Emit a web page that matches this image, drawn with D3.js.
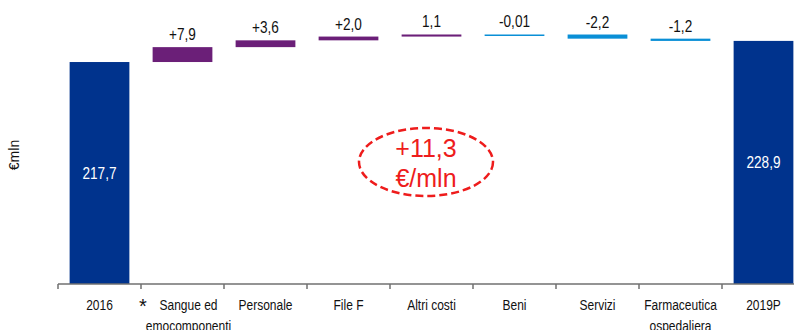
<!DOCTYPE html>
<html>
<head>
<meta charset="utf-8">
<script src="https://cdn.jsdelivr.net/npm/d3@7"></script>
<style>
  body { margin: 0; background: #fff; }
  svg text { font-family: "Liberation Sans", Arial, sans-serif; }
</style>
</head>
<body>
<svg id="chart" width="794" height="330"></svg>
<script>
// data
const categories = ["2016", "Sangue ed\nemocomponenti", "Personale", "File F", "Altri costi",
  "Beni", "Servizi", "Farmaceutica\nospedaliera", "2019P"];
const kinds = ["total", "delta", "delta", "delta", "delta", "delta", "delta", "delta", "total"];
const values = [217.7, 7.9, 3.6, 2.0, 1.1, -0.01, -2.2, -1.2, 228.9];
const valueLabels = ["217,7", "+7,9", "+3,6", "+2,0", "1,1", "-0,01", "-2,2", "-1,2", "228,9"];
const totalChange = ["+11,3", "€/mln"];

const colTotal = "#00338d";
const colUp = "#6b1f78";
const colDown = "#0a8fd6";
// narrow look (the original uses a condensed face)
const narrow = 0.8;

const svg = d3.select("#chart");

// scales
const x = d3.scaleBand()
  .domain(d3.range(10))
  .range([58, 888])
  .paddingInner(0.28)
  .paddingOuter(0.14);

const y = d3.scaleLinear()
  .domain([100, 235])
  .range([284, 29.4]);

// waterfall steps
let running = 0;
const bars = values.map((v, i) => {
  let lo, hi;
  if (kinds[i] === "total") {
    lo = y.domain()[0];
    hi = v;
    running = v;
  } else {
    lo = Math.min(running, running + v);
    hi = Math.max(running, running + v);
    running += v;
  }
  return { i, v, lo, hi, kind: kinds[i] };
});

svg.selectAll("rect.bar")
  .data(bars)
  .enter()
  .append("rect")
  .attr("class", "bar")
  .attr("x", d => x(d.i))
  .attr("width", x.bandwidth())
  .attr("y", d => y(d.hi))
  .attr("height", d => Math.max(y(d.lo) - y(d.hi), 1.5))
  .attr("fill", d => d.kind === "total" ? colTotal : (d.v >= 0 ? colUp : colDown));

// labels
svg.selectAll("text.val")
  .data(bars)
  .enter()
  .append("text")
  .attr("class", "val")
  .attr("transform", d => {
    const cx = x(d.i) + x.bandwidth() / 2;
    const cy = d.kind === "total" ? (y(d.hi) + y(d.lo)) / 2 + 6 : y(d.hi) - 7;
    return `translate(${cx},${cy}) scale(${narrow},1)`;
  })
  .attr("text-anchor", "middle")
  .attr("font-size", 17)
  .attr("fill", d => d.kind === "total" ? "#fff" : "#111")
  .text(d => valueLabels[d.i]);

// axis
const gap = x.step() - x.bandwidth();
const axis = svg.append("g");
axis.append("line")
  .attr("x1", 58).attr("x2", 794)
  .attr("y1", y.range()[0]).attr("y2", y.range()[0])
  .attr("stroke", "#707070")
  .attr("stroke-width", 1.5);

axis.selectAll("line.tick")
  .data(d3.range(10))
  .enter()
  .append("line")
  .attr("class", "tick")
  .attr("x1", d => x(d) - gap / 2)
  .attr("x2", d => x(d) - gap / 2)
  .attr("y1", y.range()[0])
  .attr("y2", y.range()[0] + 5)
  .attr("stroke", "#707070")
  .attr("stroke-width", 1.5);

const catText = axis.selectAll("text.cat")
  .data(categories)
  .enter()
  .append("text")
  .attr("class", "cat")
  .attr("text-anchor", "middle")
  .attr("font-size", 15)
  .attr("fill", "#111")
  .attr("transform", (d, i) =>
    `translate(${x(i) + x.bandwidth() / 2 + (i === 1 ? 6 : 0)},310) scale(${narrow},1)`);

catText.selectAll("tspan")
  .data(d => d.split("\n"))
  .enter()
  .append("tspan")
  .attr("x", 0)
  .attr("dy", (d, j) => j === 0 ? 0 : 21)
  .text(d => d);

svg.append("text")
  .attr("x", 143)
  .attr("y", 313)
  .attr("text-anchor", "middle")
  .attr("font-size", 20)
  .attr("fill", "#111")
  .text("*");

// y label
svg.append("text")
  .attr("transform", "translate(19,155) rotate(-90)")
  .attr("text-anchor", "middle")
  .attr("font-size", 14)
  .attr("fill", "#111")
  .text("€mln");

// total change bubble
const bubble = svg.append("g").attr("transform", "translate(426,162)");
bubble.append("ellipse")
  .attr("rx", 67)
  .attr("ry", 34)
  .attr("fill", "none")
  .attr("stroke", "#ee1c1c")
  .attr("stroke-width", 2.5)
  .attr("stroke-dasharray", "8,4");
bubble.selectAll("text")
  .data(totalChange)
  .enter()
  .append("text")
  .attr("x", 0)
  .attr("y", (d, i) => i === 0 ? -5 : 25)
  .attr("text-anchor", "middle")
  .attr("font-size", 25)
  .attr("fill", "#ee1c1c")
  .text(d => d);
</script>
</body>
</html>
